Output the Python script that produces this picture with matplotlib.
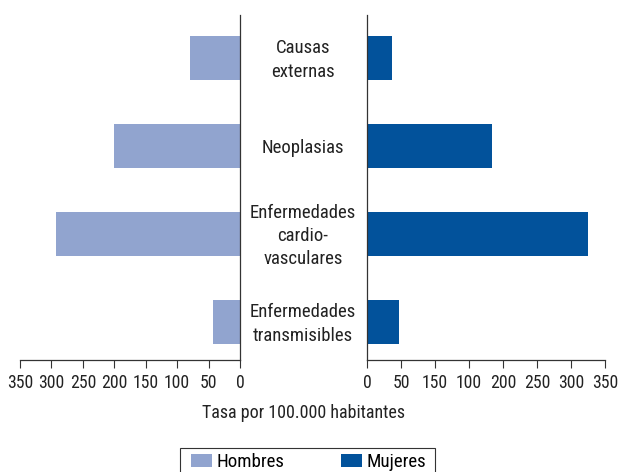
import matplotlib
matplotlib.use("Agg")
import matplotlib.pyplot as plt
from matplotlib.transforms import blended_transform_factory
from matplotlib.patches import Patch, Rectangle

categorias = ["Causas\nexternas", "Neoplasias", "Enfermedades\ncardio-\nvasculares", "Enfermedades\ntransmisibles"]
hombres = [80, 200, 293, 43]
mujeres = [37, 184, 325, 47]
ticks = [0, 50, 100, 150, 200, 250, 300, 350]
ticks_izq = ["0", "50", "100", "150", "200", "250", "300", "350"]
ticks_der = ["0", "50", "150", "100", "200", "250", "300", "350"]

c_h = "#91a4cf"
c_m = "#02529b"
axis_c = "#333333"
txt_c = "#222222"
plt.rcParams['font.family'] = ["Roboto Condensed", "Archivo Narrow", "DejaVu Sans"]

fig = plt.figure(figsize=(6.18, 4.72), dpi=100)
W, H = 618, 472
bottom = 1 - 360 / H
top = 1 - 15 / H
axL = fig.add_axes([20 / W, bottom, 220 / W, top - bottom])
axR = fig.add_axes([367 / W, bottom, 238 / W, top - bottom])

ypos = [3 - i for i in range(len(categorias))]  # top to bottom
axL.barh(ypos, hombres, height=0.5, color=c_h)
axR.barh(ypos, mujeres, height=0.5, color=c_m)

for ax in (axL, axR):
    ax.set_ylim(-0.43, 3.49)
    ax.set_yticks([])
    ax.spines['top'].set_visible(False)
    ax.set_xticks(ticks)
    ax.tick_params(axis='x', direction='out', length=6, width=0.8, color=axis_c,
                   labelsize=12.7, pad=4, labelcolor=txt_c)
    for s in ax.spines.values():
        s.set_color(axis_c)
        s.set_linewidth(0.9)

axL.set_xlim(350, 0)
axL.spines['left'].set_visible(False)
axL.set_xticklabels(ticks_izq)
axR.set_xlim(0, 350)
axR.spines['right'].set_visible(False)
axR.set_xticklabels(ticks_der)

tr = blended_transform_factory(fig.transFigure, axL.transData)
for y, lab in zip(ypos, categorias):
    axL.text(303 / W, y - 0.02, lab, transform=tr, ha='center', va='center',
             fontsize=13.5, color=txt_c, linespacing=1.38, clip_on=False)

fig.text(303.5 / W, 1 - 413 / H, "Tasa por 100.000 habitantes", ha='center', va='center',
         fontsize=13, color=txt_c)

# legend frame (extends past the bottom edge as in the reference)
fig.patches.append(Rectangle((180 / W, -0.02), (435 - 180) / W, 0.02 + (472 - 448) / H,
                             transform=fig.transFigure, fill=False,
                             edgecolor="#333333", linewidth=0.8))
handles = [Patch(facecolor=c_h, edgecolor='none', label="Hombres"),
           Patch(facecolor=c_m, edgecolor='none', label="Mujeres")]
leg = fig.legend(handles=handles, loc='center left', bbox_to_anchor=(191 / W, 1 - 462 / H),
                 ncol=2, frameon=False, fontsize=13.6, handlelength=1.1,
                 handleheight=0.65, columnspacing=3.0, borderpad=0, handletextpad=0.25,
                 borderaxespad=0)

fig.savefig("out.png", dpi=100)
